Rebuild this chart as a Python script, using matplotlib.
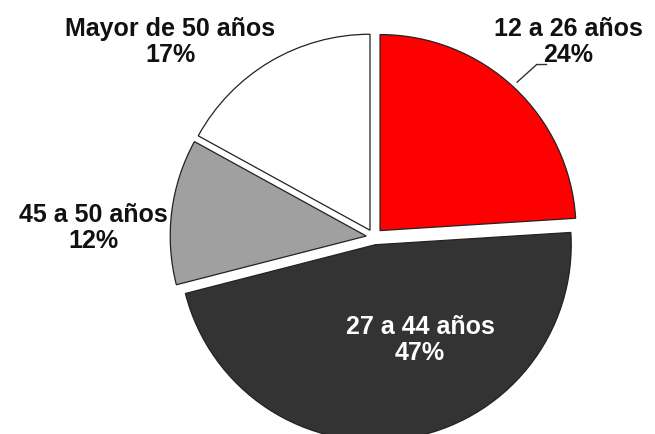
import matplotlib.pyplot as plt

# data
labels = ['12 a 26 años', '27 a 44 años', '45 a 50 años', 'Mayor de 50 años']
values = [24, 47, 12, 17]
colors = ['#ff0000', '#333333', '#a0a0a0', '#ffffff']
text_colors = ['#111111', '#ffffff', '#111111', '#111111']
explode = [0.045, 0.04, 0.04, 0.04]

# where each label sits (data units, pie radius = 1)
label_pos = [(0.99, 1.0), (0.235, -0.52), (-1.43, 0.05), (-1.04, 1.0)]

plt.rcParams['font.family'] = ['Liberation Sans', 'DejaVu Sans']

fig = plt.figure(figsize=(6.55, 4.35), dpi=100)
ax = fig.add_axes([0, 0, 1, 1])

wedges, _ = ax.pie(values, colors=colors, explode=explode, startangle=90,
                   counterclock=False,
                   wedgeprops=dict(edgecolor='#222222', linewidth=0.9))

for lab, v, pos, tc in zip(labels, values, label_pos, text_colors):
    ax.text(pos[0], pos[1], '%s\n%d%%' % (lab, v), ha='center', va='center',
            fontsize=18, fontweight='bold', color=tc, linespacing=1.1)

# leader line for the red slice
ax.plot([0.73, 0.83, 0.88], [0.79, 0.88, 0.88], color='#333333', lw=1)

# px scale: 196 px per unit, pie centre at (374, 238) from top-left
s = 196
ax.set_aspect('equal')
ax.set_xlim(-374 / s, (655 - 374) / s)
ax.set_ylim(-(435 - 238) / s, 238 / s)
ax.axis('off')

fig.savefig('out.png', dpi=100)
